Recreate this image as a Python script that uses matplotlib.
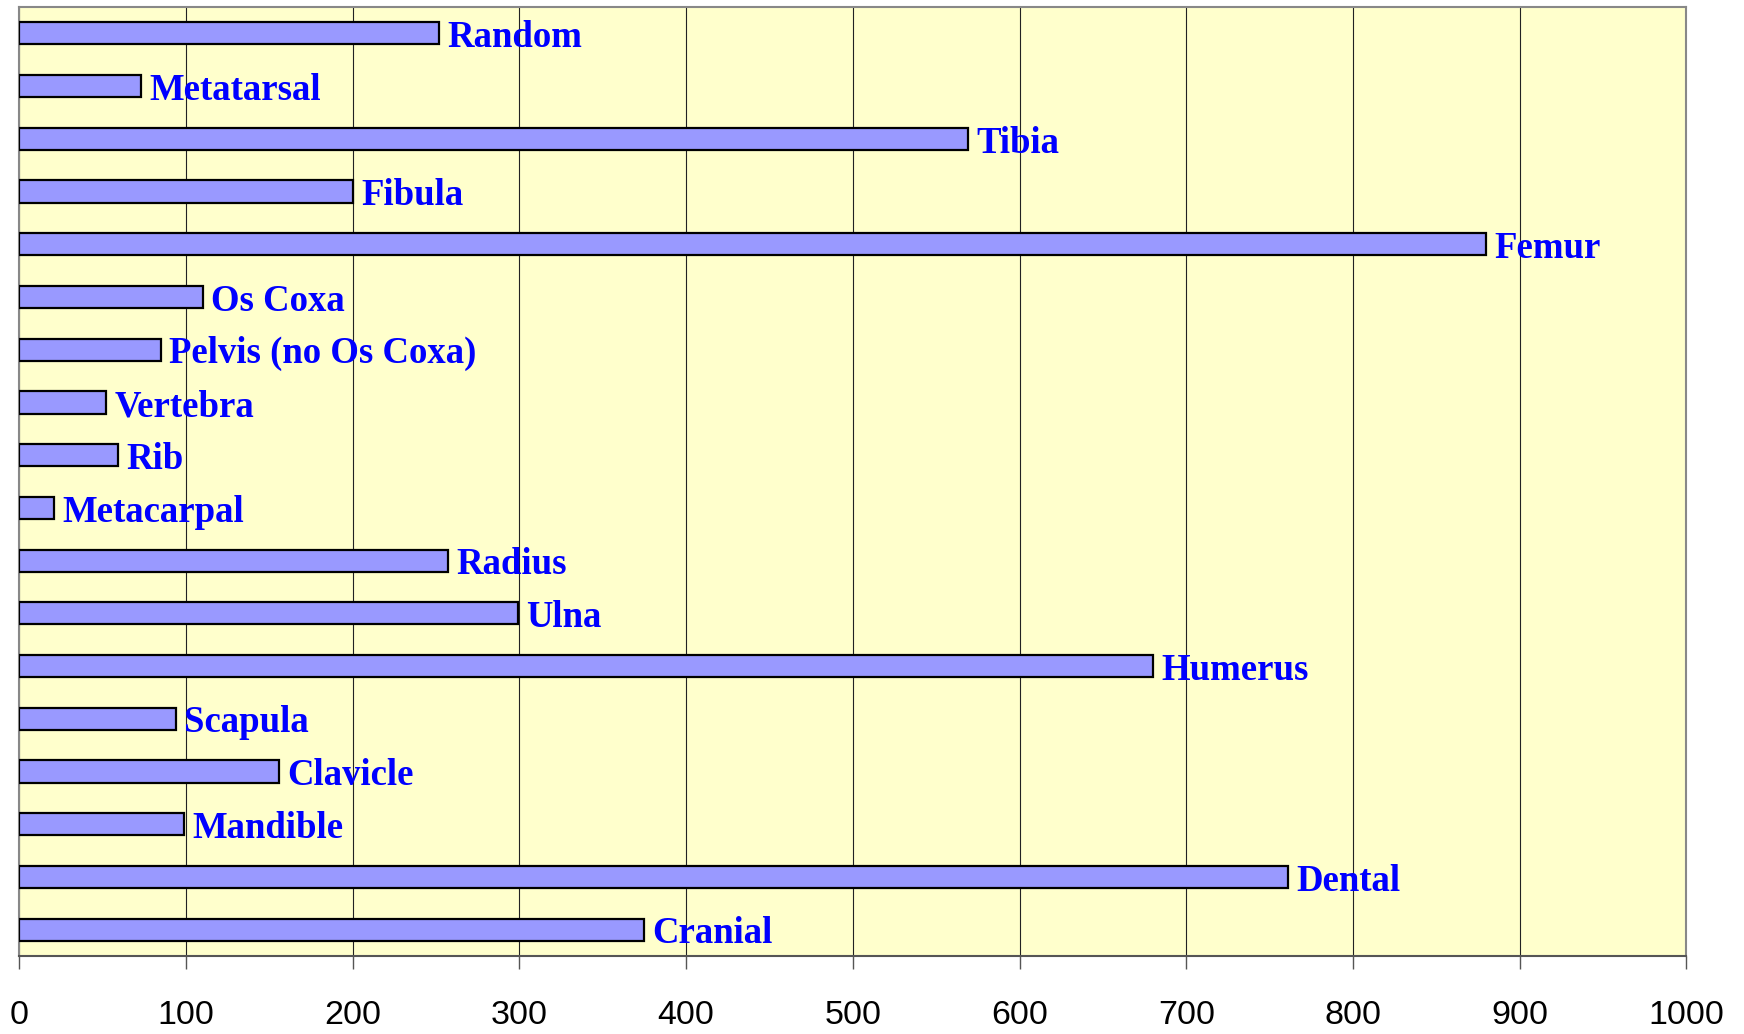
import matplotlib
matplotlib.use("Agg")
import matplotlib.pyplot as plt

categories = ["Cranial", "Dental", "Mandible", "Clavicle", "Scapula", "Humerus",
              "Ulna", "Radius", "Metacarpal", "Rib", "Vertebra", "Pelvis (no Os Coxa)",
              "Os Coxa", "Femur", "Fibula", "Tibia", "Metatarsal", "Random"]
values = [375, 761, 99, 156, 94, 680, 299, 257, 21, 59, 52, 85, 110, 880, 200, 569, 73, 252]
xticks = [0, 100, 200, 300, 400, 500, 600, 700, 800, 900, 1000]

fig = plt.figure(figsize=(17.44, 10.34), dpi=100)
ax = fig.add_axes([0.011, 0.0754, 0.956, 0.9178])
ax.set_facecolor("#FFFFCC")

ypos = list(range(len(categories)))
ax.barh(ypos, values, height=0.42, color="#9999FF", edgecolor="black", linewidth=1.6, zorder=3)

for y, v, name in zip(ypos, values, categories):
    ax.annotate(name, xy=(v, y), xytext=(6, -3), textcoords="offset points",
                ha="left", va="center", color="#0000FF", fontsize=26.5,
                family="Liberation Serif", fontweight="bold", zorder=4)

ax.set_xlim(0, 1000)
ax.set_ylim(-0.5, len(categories) - 0.5)
ax.set_xticks(xticks)
ax.set_xticklabels([str(t) for t in xticks], fontsize=24.5, family="Liberation Sans")
ax.set_yticks([])
ax.xaxis.grid(True, color="#222222", linewidth=0.8, zorder=1)
ax.set_axisbelow(True)
ax.tick_params(axis="x", direction="out", length=9, width=1.0, color="#555555", pad=23)
for side in ["top", "left", "right"]:
    ax.spines[side].set_color("#888888")
    ax.spines[side].set_linewidth(1.5)
ax.spines["bottom"].set_color("#555555")
ax.spines["bottom"].set_linewidth(1.5)

fig.savefig("out.png", dpi=100)
